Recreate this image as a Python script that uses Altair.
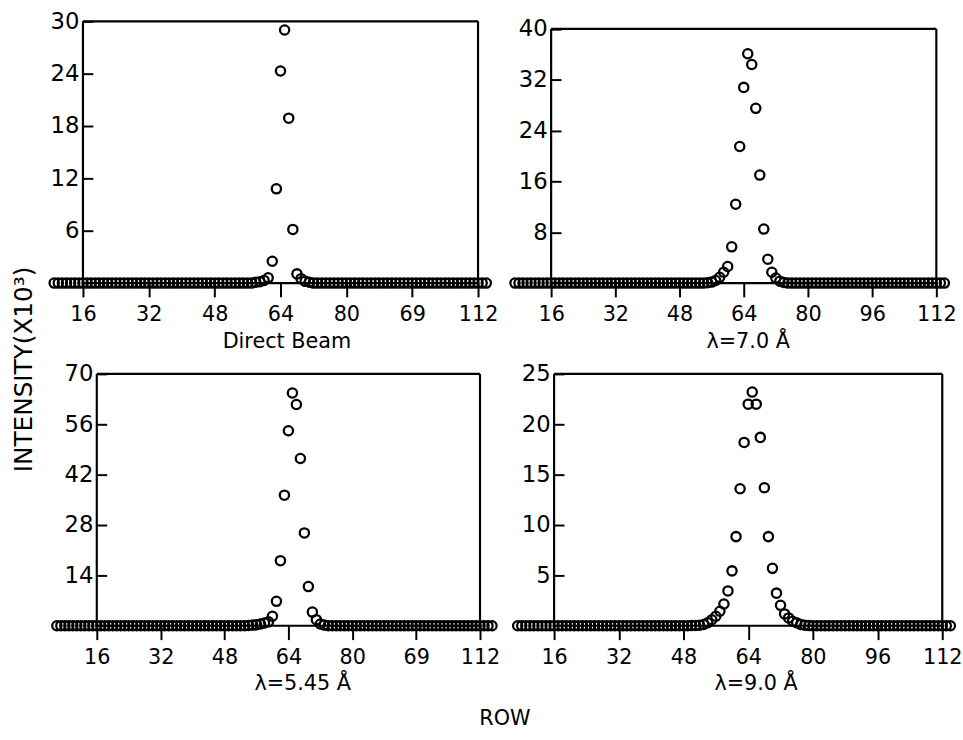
import altair as alt
import pandas as pd

FONT = "DejaVu Sans"

# x tick positions (detector row) and y tick values per panel
X_TICKS = [16, 32, 48, 64, 80, 96, 112]
Y_TICKS_TL = [6, 12, 18, 24, 30]
Y_TICKS_TR = [8, 16, 24, 32, 40]
Y_TICKS_BL = [14, 28, 42, 56, 70]
Y_TICKS_BR = [5, 10, 15, 20, 25]

TITLE_TL = "Direct Beam"
TITLE_TR = "λ=7.0 Å"
TITLE_BL = "λ=5.45 Å"
TITLE_BR = "λ=9.0 Å"

# Direct beam: rows 9..114, intensity (x10^3)
rows_tl = list(range(9, 115))
int_tl = [
    0, 0, 0, 0, 0, 0, 0, 0, 0, 0,
    0, 0, 0, 0, 0, 0, 0, 0, 0, 0,
    0, 0, 0, 0, 0, 0, 0, 0, 0, 0,
    0, 0, 0, 0, 0, 0, 0, 0, 0, 0,
    0, 0, 0, 0, 0, 0, 0, 0, 0,
    0.1, 0.15, 0.3, 0.6, 2.5, 10.8, 24.3, 29.0, 18.9, 6.15, 1.05, 0.5, 0.2, 0.1,
    0, 0, 0, 0, 0, 0, 0, 0, 0, 0,
    0, 0, 0, 0, 0, 0, 0, 0, 0, 0,
    0, 0, 0, 0, 0, 0, 0, 0, 0, 0,
    0, 0, 0, 0, 0, 0, 0, 0, 0, 0,
    0, 0, 0,
]

# lambda = 7.0 A: rows 7..114
rows_tr = list(range(7, 115))
int_tr = [
    0, 0, 0, 0, 0, 0, 0, 0, 0, 0,
    0, 0, 0, 0, 0, 0, 0, 0, 0, 0,
    0, 0, 0, 0, 0, 0, 0, 0, 0, 0,
    0, 0, 0, 0, 0, 0, 0, 0, 0, 0,
    0, 0, 0, 0, 0, 0, 0, 0,
    0.05, 0.15, 0.4, 0.9, 1.7, 2.6, 5.7, 12.4, 21.5, 30.8,
    36.1, 34.4, 27.5, 17.0, 8.5, 3.75, 1.7, 0.8, 0.3, 0.1,
    0, 0, 0, 0, 0, 0, 0, 0, 0, 0,
    0, 0, 0, 0, 0, 0, 0, 0, 0, 0,
    0, 0, 0, 0, 0, 0, 0, 0, 0, 0,
    0, 0, 0, 0, 0, 0, 0, 0, 0, 0,
]

# lambda = 5.45 A: rows 6..115
rows_bl = list(range(6, 116))
int_bl = [
    0, 0, 0, 0, 0, 0, 0, 0, 0, 0,
    0, 0, 0, 0, 0, 0, 0, 0, 0, 0,
    0, 0, 0, 0, 0, 0, 0, 0, 0, 0,
    0, 0, 0, 0, 0, 0, 0, 0, 0, 0,
    0, 0, 0, 0, 0, 0, 0, 0,
    0.1, 0.2, 0.3, 0.5, 0.8, 1.1, 2.65, 6.8, 18.1, 36.3,
    54.2, 64.7, 61.5, 46.5, 25.8, 10.9, 3.8, 1.7, 0.5, 0.2,
    0, 0, 0, 0, 0, 0, 0, 0, 0, 0,
    0, 0, 0, 0, 0, 0, 0, 0, 0, 0,
    0, 0, 0, 0, 0, 0, 0, 0, 0, 0,
    0, 0, 0, 0, 0, 0, 0, 0, 0, 0,
    0, 0,
]

# lambda = 9.0 A: rows 7..114
rows_br = list(range(7, 115))
int_br = [
    0, 0, 0, 0, 0, 0, 0, 0, 0, 0,
    0, 0, 0, 0, 0, 0, 0, 0, 0, 0,
    0, 0, 0, 0, 0, 0, 0, 0, 0, 0,
    0, 0, 0, 0, 0, 0, 0, 0, 0, 0,
    0, 0, 0,
    0.02, 0.03, 0.05, 0.13, 0.3, 0.6, 0.95, 1.44, 2.16, 3.46,
    5.45, 8.85, 13.6, 18.2, 22.0, 23.2, 22.0, 18.7, 13.7, 8.85,
    5.7, 3.24, 2.03, 1.18, 0.78, 0.45, 0.3, 0.13, 0.05, 0.02,
    0, 0, 0, 0, 0, 0, 0, 0, 0, 0,
    0, 0, 0, 0, 0, 0, 0, 0, 0, 0,
    0, 0, 0, 0, 0, 0, 0, 0, 0, 0,
    0, 0, 0, 0, 0,
]

for r, v, n in [(rows_tl, int_tl, "tl"), (rows_tr, int_tr, "tr"),
                (rows_bl, int_bl, "bl"), (rows_br, int_br, "br")]:
    assert len(r) == len(v), f"{n}: {len(r)} rows vs {len(v)} values"


def panel(rows, vals, title, title_x, yticks, ytop, ydom, width, height,
          xmin, yoffset, typo):
    df = pd.DataFrame({"row": rows, "intensity": vals})
    xscale = alt.Scale(domain=[xmin, 112], nice=False, zero=False)
    yscale = alt.Scale(domain=[0, ydom], nice=False, zero=False)
    label_expr = "datum.value == 96 ? '69' : datum.label" if typo else "datum.label"
    xaxis = alt.Axis(
        values=X_TICKS, title=title, domain=False, grid=False,
        tickSize=14, tickWidth=2, tickColor="black",
        labelFont=FONT, labelFontSize=21, labelColor="black", labelPadding=7,
        labelFlush=False, labelOverlap=False, labelExpr=label_expr,
        titleFont=FONT, titleFontSize=21, titleFontWeight="normal",
        titleColor="black", titlePadding=6, titleX=title_x,
    )
    yaxis = alt.Axis(
        values=yticks, title=None, domain=False, grid=False,
        tickSize=10, tickWidth=2, tickColor="black", offset=yoffset,
        labelFont=FONT, labelFontSize=23, labelColor="black", labelPadding=4,
        labelFlush=False, labelOverlap=False,
    )
    box_df = pd.DataFrame({
        "x": [16, 16, 16, 112],
        "x2": [112, 112, 16, 112],
        "y": [0, ytop, 0, 0],
        "y2": [0, ytop, ytop, ytop],
    })
    box = alt.Chart(box_df).mark_rule(strokeWidth=2.2, color="black").encode(
        x=alt.X("x:Q", scale=xscale, axis=xaxis),
        x2="x2:Q",
        y=alt.Y("y:Q", scale=yscale, axis=yaxis),
        y2="y2:Q",
    )
    pts = alt.Chart(df).mark_point(
        shape="circle", size=88, strokeWidth=2.3, color="black",
        filled=False, clip=False, opacity=1,
    ).encode(
        x=alt.X("row:Q", scale=xscale, axis=xaxis),
        y=alt.Y("intensity:Q", scale=yscale, axis=yaxis),
    )
    return alt.layer(box, pts).properties(width=width, height=height)


tl = panel(rows_tl, int_tl, TITLE_TL, 206, Y_TICKS_TL, 30, 30, 400, 265, 16, -10, True)
tr = panel(rows_tr, int_tr, TITLE_TR, 199, Y_TICKS_TR, 40, 41.2, 390, 265, 16, -10, False)
bl = panel(rows_bl, int_bl, TITLE_BL, 222, Y_TICKS_BL, 70, 70, 402, 255, 12.536, -24, True)
br = panel(rows_br, int_br, TITLE_BR, 204, Y_TICKS_BR, 25, 25, 393, 255, 16, -10, False)

top = alt.hconcat(tl, tr, spacing=74, bounds="flush")
bottom = alt.hconcat(bl, br, spacing=75, bounds="flush").properties(
    title=alt.TitleParams(
        "ROW", orient="bottom", anchor="middle", font=FONT, fontSize=21,
        fontWeight="normal", color="black", offset=14,
    )
)

chart = alt.vconcat(top, bottom, spacing=12).properties(
    title=alt.TitleParams(
        "INTENSITY(X10³)", orient="left", anchor="middle", font=FONT,
        fontSize=25, fontWeight="normal", color="black", offset=8,
    ),
    padding={"left": 12, "top": 6, "right": 0, "bottom": 2},
    background="white",
).configure_view(stroke=None)

chart.save("out.html", embed_options={"renderer": "svg", "actions": False})
